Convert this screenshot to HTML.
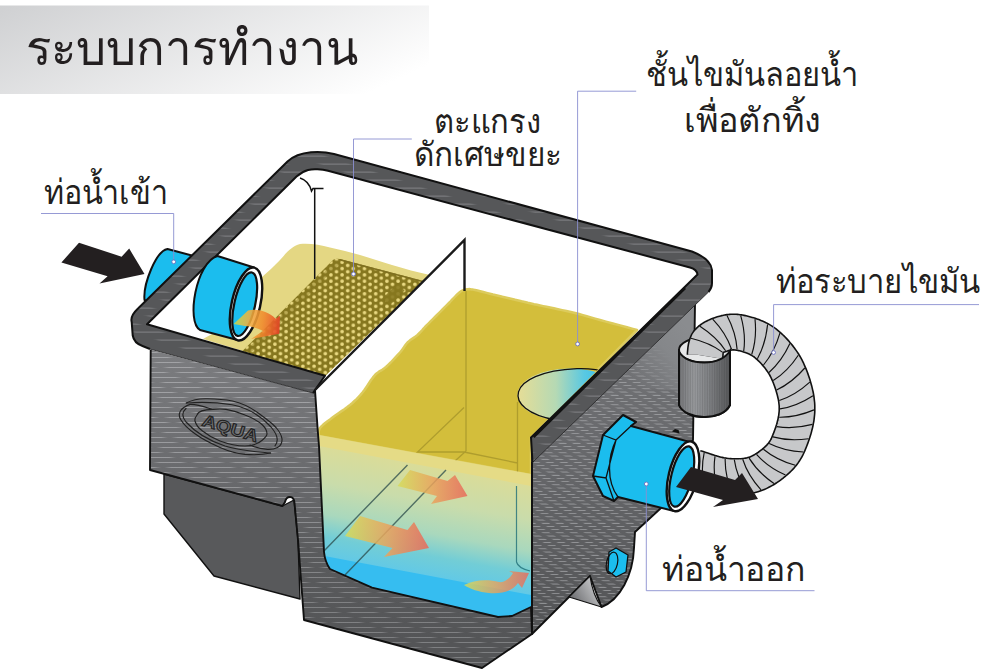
<!DOCTYPE html><html><head><meta charset="utf-8"><style>html,body{margin:0;padding:0;background:#fff}svg{display:block}</style></head><body><svg width="1000" height="669" viewBox="0 0 1000 669">
<defs>
<linearGradient id="gBan" gradientUnits="userSpaceOnUse" x1="0" y1="5.5" x2="100" y2="219"><stop offset="0" stop-color="#cfd0d2"/><stop offset="1" stop-color="#fff"/></linearGradient>
<linearGradient id="gBanR" gradientUnits="userSpaceOnUse" x1="385" y1="0" x2="430" y2="0"><stop offset="0" stop-color="#fff" stop-opacity="0"/><stop offset="1" stop-color="#fff"/></linearGradient>
<linearGradient id="gStk" x1="0" y1="0" x2="1" y2="0"><stop offset="0" stop-color="#b4b5b8" stop-opacity="0"/><stop offset=".2" stop-color="#b4b5b8" stop-opacity=".68"/><stop offset=".8" stop-color="#b4b5b8" stop-opacity=".68"/><stop offset="1" stop-color="#b4b5b8" stop-opacity="0"/></linearGradient>
<linearGradient id="gStk2" x1="0" y1="0" x2="1" y2="0"><stop offset="0" stop-color="#a9abae" stop-opacity="0"/><stop offset=".15" stop-color="#a9abae" stop-opacity=".8"/><stop offset=".85" stop-color="#a9abae" stop-opacity=".8"/><stop offset="1" stop-color="#a9abae" stop-opacity="0"/></linearGradient>
<pattern id="pStub" width="1.7" height="8" patternUnits="userSpaceOnUse"><rect width=".6" height="8" fill="#222" opacity=".22"/></pattern>
<pattern id="pWall" width="38" height="5" patternUnits="userSpaceOnUse" patternTransform="skewX(66.5)"><rect x="1" y="2" width="35" height=".9" fill="url(#gStk)"/></pattern>
<pattern id="pWall2" width="14" height="3.2" patternUnits="userSpaceOnUse" patternTransform="skewX(57)"><rect x="1" y="1.2" width="9.5" height=".9" fill="url(#gStk)"/></pattern>
<pattern id="pRim" width="64" height="8" patternUnits="userSpaceOnUse" patternTransform="skewX(72)"><rect x="4" y="3.6" width="36" height=".85" fill="url(#gStk2)"/></pattern>
<pattern id="pDots" x="353.3" y="281.2" width="11.2" height="6.3" patternUnits="userSpaceOnUse"><g fill="#e9d982"><circle cx="0" cy="0" r="1.8"/><circle cx="11.2" cy="0" r="1.8"/><circle cx="0" cy="6.3" r="1.8"/><circle cx="11.2" cy="6.3" r="1.8"/><circle cx="5.6" cy="3.15" r="1.8"/></g></pattern>
<linearGradient id="gWater" gradientUnits="userSpaceOnUse" x1="430" y1="462" x2="405" y2="600"><stop offset="0" stop-color="#dcdc96"/><stop offset=".28" stop-color="#c9dcab"/><stop offset=".5" stop-color="#a9d8bd"/><stop offset=".66" stop-color="#72cdd6"/><stop offset=".8" stop-color="#62c9e6"/><stop offset="1" stop-color="#45c1ee"/></linearGradient>
<linearGradient id="gHole" gradientUnits="userSpaceOnUse" x1="520" y1="0" x2="600" y2="0"><stop offset="0" stop-color="#e3dd98"/><stop offset=".45" stop-color="#b5d9b4"/><stop offset=".8" stop-color="#5ac9e2"/><stop offset="1" stop-color="#3ec1ea"/></linearGradient>
<linearGradient id="gStub" gradientUnits="userSpaceOnUse" x1="679" y1="0" x2="730" y2="0"><stop offset="0" stop-color="#77787b"/><stop offset=".3" stop-color="#9a9c9f"/><stop offset=".6" stop-color="#808285"/><stop offset="1" stop-color="#58595b"/></linearGradient>
<linearGradient id="gArr" x1="0" y1="0" x2="1" y2="0"><stop offset="0" stop-color="#d6dc5a"/><stop offset=".5" stop-color="#e9a35c"/><stop offset="1" stop-color="#e8685a"/></linearGradient>
<linearGradient id="gArrIn" gradientUnits="userSpaceOnUse" x1="234" y1="322" x2="281" y2="328"><stop offset="0" stop-color="#c3d84c"/><stop offset=".3" stop-color="#f0b040"/><stop offset=".6" stop-color="#f08a2c"/><stop offset="1" stop-color="#e63a26"/></linearGradient>
<linearGradient id="gSide" gradientUnits="userSpaceOnUse" x1="630" y1="380" x2="690" y2="330"><stop offset="0" stop-color="#808285" stop-opacity="0"/><stop offset=".6" stop-color="#85878a"/><stop offset="1" stop-color="#8a8c8f"/></linearGradient>
<linearGradient id="gCurve" gradientUnits="userSpaceOnUse" x1="572" y1="600" x2="598" y2="585"><stop offset="0" stop-color="#6d6e71"/><stop offset="1" stop-color="#c9cacc"/></linearGradient>
<linearGradient id="gW1" gradientUnits="userSpaceOnUse" x1="0" y1="350" x2="0" y2="640"><stop offset="0" stop-color="#7c7d80"/><stop offset=".45" stop-color="#68696c"/><stop offset=".7" stop-color="#5a5b5d"/><stop offset="1" stop-color="#545557"/></linearGradient>
<linearGradient id="gW2" gradientUnits="userSpaceOnUse" x1="0" y1="310" x2="0" y2="620"><stop offset="0" stop-color="#76777a"/><stop offset=".5" stop-color="#66676a"/><stop offset="1" stop-color="#545557"/></linearGradient>
<linearGradient id="gFade" gradientUnits="userSpaceOnUse" x1="0" y1="400" x2="0" y2="600"><stop offset="0" stop-color="#fff"/><stop offset="1" stop-color="#a8a8a8"/></linearGradient><mask id="mFade" maskUnits="userSpaceOnUse" x="0" y="0" width="1000" height="669"><rect width="1000" height="669" fill="url(#gFade)"/></mask>
<clipPath id="cOil"><path d="M319.0,436.0L319.0,435.2L318.8,434.0L318.7,432.7L318.8,431.1L319.2,429.6L320.0,428.0L321.4,426.4L323.1,424.8L325.2,423.0L327.5,421.2L330.0,419.4L332.5,417.5L335.2,415.5L338.1,413.5L341.2,411.4L344.4,409.2L347.3,407.1L350.0,405.0L352.4,403.0L354.5,401.0L356.6,399.1L358.5,397.0L360.5,394.9L362.5,392.5L364.6,389.8L366.7,386.7L368.8,383.5L370.9,380.3L373.0,377.4L375.0,375.0L376.9,373.2L378.7,371.9L380.4,370.8L382.2,369.8L384.0,368.6L386.0,367.0L388.2,364.9L390.7,362.5L393.2,359.9L395.7,357.2L398.0,354.7L400.0,352.5L401.6,350.5L402.9,348.7L404.0,347.1L405.1,345.5L406.2,344.0L407.5,342.5L409.1,341.1L410.7,339.8L412.5,338.6L414.3,337.4L415.9,336.2L417.5,335.0L418.8,333.7L420.0,332.5L421.1,331.3L422.3,330.0L423.5,328.6L425.0,327.0L426.8,325.2L428.7,323.3L430.8,321.2L432.9,319.1L435.0,317.0L437.0,315.0L438.9,313.1L440.7,311.3L442.5,309.5L444.3,307.7L446.1,305.9L448.0,304.0L450.0,302.0L452.1,299.7L454.2,297.5L456.3,295.3L458.3,293.5L460.0,292.0L461.4,291.0L462.7,290.3L463.8,289.9L464.8,289.6L465.8,289.4L467.0,289.3L468.2,289.2L469.2,289.1L470.3,289.2L471.6,289.4L473.1,289.6L475.0,290.0L477.4,290.5L480.2,291.2L483.3,292.0L486.6,292.9L489.8,293.7L493.0,294.5L496.1,295.2L499.3,296.0L502.4,296.8L505.6,297.5L508.8,298.2L512.0,299.0L515.2,299.8L518.3,300.5L521.5,301.3L524.7,302.0L527.8,302.8L531.0,303.5L534.1,304.2L537.1,304.8L540.1,305.4L543.2,306.1L546.5,306.8L550.0,307.5L553.8,308.3L557.9,309.2L562.1,310.1L566.4,311.0L570.8,312.0L575.0,313.0L579.0,314.0L582.9,315.1L586.8,316.2L590.8,317.4L595.1,318.6L600.0,320.0L605.9,321.6L612.8,323.5L620.1,325.4L627.0,327.3L632.8,328.9L637.0,330.0L531,437.5L531,475Z"/></clipPath>
<clipPath id="cMesh"><path d="M331,262Q334,257.5 340,259L423.5,281L325,376L242.5,351Z"/></clipPath>
</defs>
<rect width="1000" height="669" fill="#fff"/>
<!-- banner -->
<rect x="0" y="5.5" width="429" height="88.5" fill="url(#gBan)"/>

<!-- inlet pipe exterior part -->
<path d="M205,259L167.5,249C156,251 143,284 144.5,300L152,304Z" fill="#1bbdee" stroke="#111" stroke-width="2" stroke-linejoin="round"/>

<!-- first chamber pale oil -->
<path d="M203,339L212,334L262,277C270,270 274,266 280,260C287,252 292,246 300,244C310,243 320,245 330,247.5C340,250 350,252 360,255C371,258 381,262 392,265C405,269 417,272 430,275L325,376Z" fill="#e4d783"/>
<!-- mesh -->
<path d="M331,262Q334,257.5 340,259L423.5,281L325,376L242.5,351Z" fill="#86771f"/>
<path d="M331,262Q334,257.5 340,259L423.5,281L325,376L242.5,351Z" fill="url(#pDots)"/>
<g clip-path="url(#cMesh)"><path d="M338,262L250,350" stroke="#86771f" stroke-width="5" opacity=".45"/><path d="M401,287L386,302" stroke="#86771f" stroke-width="10" opacity=".85"/><path d="M340,259L423.5,281" stroke="#7f7020" stroke-width="3"/></g>

<!-- main oil -->
<path d="M319.0,436.0L319.0,435.2L318.8,434.0L318.7,432.7L318.8,431.1L319.2,429.6L320.0,428.0L321.4,426.4L323.1,424.8L325.2,423.0L327.5,421.2L330.0,419.4L332.5,417.5L335.2,415.5L338.1,413.5L341.2,411.4L344.4,409.2L347.3,407.1L350.0,405.0L352.4,403.0L354.5,401.0L356.6,399.1L358.5,397.0L360.5,394.9L362.5,392.5L364.6,389.8L366.7,386.7L368.8,383.5L370.9,380.3L373.0,377.4L375.0,375.0L376.9,373.2L378.7,371.9L380.4,370.8L382.2,369.8L384.0,368.6L386.0,367.0L388.2,364.9L390.7,362.5L393.2,359.9L395.7,357.2L398.0,354.7L400.0,352.5L401.6,350.5L402.9,348.7L404.0,347.1L405.1,345.5L406.2,344.0L407.5,342.5L409.1,341.1L410.7,339.8L412.5,338.6L414.3,337.4L415.9,336.2L417.5,335.0L418.8,333.7L420.0,332.5L421.1,331.3L422.3,330.0L423.5,328.6L425.0,327.0L426.8,325.2L428.7,323.3L430.8,321.2L432.9,319.1L435.0,317.0L437.0,315.0L438.9,313.1L440.7,311.3L442.5,309.5L444.3,307.7L446.1,305.9L448.0,304.0L450.0,302.0L452.1,299.7L454.2,297.5L456.3,295.3L458.3,293.5L460.0,292.0L461.4,291.0L462.7,290.3L463.8,289.9L464.8,289.6L465.8,289.4L467.0,289.3L468.2,289.2L469.2,289.1L470.3,289.2L471.6,289.4L473.1,289.6L475.0,290.0L477.4,290.5L480.2,291.2L483.3,292.0L486.6,292.9L489.8,293.7L493.0,294.5L496.1,295.2L499.3,296.0L502.4,296.8L505.6,297.5L508.8,298.2L512.0,299.0L515.2,299.8L518.3,300.5L521.5,301.3L524.7,302.0L527.8,302.8L531.0,303.5L534.1,304.2L537.1,304.8L540.1,305.4L543.2,306.1L546.5,306.8L550.0,307.5L553.8,308.3L557.9,309.2L562.1,310.1L566.4,311.0L570.8,312.0L575.0,313.0L579.0,314.0L582.9,315.1L586.8,316.2L590.8,317.4L595.1,318.6L600.0,320.0L605.9,321.6L612.8,323.5L620.1,325.4L627.0,327.3L632.8,328.9L637.0,330.0L531,437.5L531,475Z" fill="#d3be3b" stroke="#dccb5c" stroke-width="2.5" stroke-linejoin="round"/>
<g clip-path="url(#cOil)"><ellipse cx="570" cy="395" rx="52.5" ry="26.5" fill="url(#gHole)"/>
<path d="M556,420C500,410 505,372 577,368.7C590,368 600,370 610,373" fill="none" stroke="#111" stroke-width="1.3"/>
<path d="M466,291L466,451M464,407.5L417.5,452L464,452L517.5,463M466,451L455,461M517.5,402L517.5,476" fill="none" stroke="#a8982c" stroke-width="1.3" opacity=".85"/>
</g>
<!-- oil cut band -->
<path d="M319,435L531,474L531,487L319,447Z" fill="#e5db86"/>
<!-- water -->
<path d="M319,446L531,486L531,607L512,616L498,617L372,587.6L330,569Q325,562 324,552Z" fill="url(#gWater)"/>
<path d="M324.3,556L531,595L531,607L512,616L498,617L372,587.6L330,569Q325.5,563 324.3,556Z" fill="#36bdf0"/>
<path d="M407.5,465L324,551M446,470L345,575" stroke="#2a4a4a" stroke-width="1.4" opacity=".75" fill="none"/>
<path d="M516.5,486L516.5,562Q518,568 530,571" stroke="#1f6f78" stroke-width="1.2" fill="none" opacity=".8"/>
<path d="M410,470L447.5,481L455,475L467.5,496L431,504L437,496L397.5,486Z" fill="url(#gArr)" opacity=".85"/>
<path d="M360,516L407.5,530L414,522L429,548L384,557L392.5,548L345,536Z" fill="url(#gArr)" opacity=".85"/>
<path d="M464,585C474,580 487,579 499,582C505,583 510,578 513,573L509,571L529,573L522,588L518,583C512,592 500,594 489,593C479,592 470,589 464,585Z" fill="url(#gArr)" opacity=".8"/>

<!-- base -->
<path d="M164,474L164,514L214,576L300,599L298,540L294,500L282.5,506Z" fill="#58595b" stroke="#111" stroke-width="1.4" stroke-linejoin="round"/>
<!-- front wall + cut frame -->
<path d="M150.7,349.7L313,393L315,390L317.7,430L319,446L324,552Q325,562 330,569L372,587.6L498,617L512,616L531,607L532,634L482,668L304,620L298,540L294.5,503Q294,497 290,497Q286,497 285,502L282.5,506L150,470Z" fill="url(#gW1)"/><path d="M150.7,349.7L313,393L315,390L317.7,430L319,446L324,552Q325,562 330,569L372,587.6L498,617L512,616L531,607L532,634L482,668L304,620L298,540L294.5,503Q294,497 290,497Q286,497 285,502L282.5,506L150,470Z" fill="url(#pWall)" mask="url(#mFade)"/><path d="M313,393L315,390L317.7,430L319,446L324,552Q325,562 330,569L372,587.6L498,617L512,616L531,607L532,634L482,668L304,620L298,540L294.5,503Q294,497 290,497Q286,497 285,502L282.5,506L150,470L150.7,349.7" fill="none" stroke="#111" stroke-width="1.9" stroke-linejoin="round"/>
<!-- right wall -->
<path d="M532,462L695,303L693,440L661,508L635,532L634,548C633,575 620,600 601.5,607L590,576L569,597L532,634Z" fill="url(#gW2)"/><path d="M532,462L695,303L693,440L661,508L635,532L634,548C633,575 620,600 601.5,607L590,576L569,597L532,634Z" fill="url(#pWall2)"/>
<path d="M695,303L695,392L612,385Z" fill="url(#gSide)"/>
<path d="M695,303L693,440L661,508L635,532L634,548C633,575 620,600 601.5,607L590,576L569,597L532,634L532,462" fill="none" stroke="#111" stroke-width="1.9" stroke-linejoin="round"/>
<path d="M569,597L590,576C592,590 597,601 601.5,607Z" fill="url(#gCurve)" stroke="#111" stroke-width="1.2" stroke-linejoin="round"/>
<path d="M532,437L532,634" stroke="#111" stroke-width="1.5"/>

<!-- rim -->
<path d="M147,324.3L296.5,176.5C305,169 312,169 317.5,169.3C322,169.5 325,170 328,170.8L690,267.5Q697,269.5 697.5,274.5L531,437.5L532.5,462.5L708.5,292Q712,288 712,283L712,270Q711,259 692,251.5L334,154C322,151 300,150 287.5,161.5L138,308.5Q130,316 131.7,322L132.7,335.5Q134,343 142.5,346L150,349L313,393L315,390L325,375.7Z" fill="#565759"/><path d="M147,324.3L296.5,176.5C305,169 312,169 317.5,169.3C322,169.5 325,170 328,170.8L690,267.5Q697,269.5 697.5,274.5L531,437.5L532.5,462.5L708.5,292Q712,288 712,283L712,270Q711,259 692,251.5L334,154C322,151 300,150 287.5,161.5L138,308.5Q130,316 131.7,322L132.7,335.5Q134,343 142.5,346L150,349L313,393L315,390L325,375.7Z" fill="url(#pRim)"/><path d="M532.5,462.5L708.5,292M150,349L313,393" fill="none" stroke="#2b2b2d" stroke-width=".9"/><path d="M313,393L315,390L325,375.7L147,324.3L296.5,176.5C305,169 312,169 317.5,169.3C322,169.5 325,170 328,170.8L690,267.5Q697,269.5 697.5,274.5L531,437.5L532.5,462.5M708.5,292Q712,288 712,283L712,270Q711,259 692,251.5L334,154C322,151 300,150 287.5,161.5L138,308.5Q130,316 131.7,322L132.7,335.5Q134,343 142.5,346L150,349" fill="none" stroke="#111" stroke-width="2" stroke-linejoin="round"/>
<path d="M685,288L533.5,437" stroke="#111" stroke-width="2.8" fill="none"/>

<!-- baffle -->
<path d="M315,390L464.5,240L464.5,291" fill="none" stroke="#1a1a1a" stroke-width="2.4" stroke-linejoin="miter"/>
<!-- handle -->
<path d="M300,178Q309,181 311.5,191L313,188.5L323.5,188.5M314.7,188.5L314.7,279" fill="none" stroke="#111" stroke-width="1.5"/>

<!-- inner inlet pipe -->
<path d="M217.5,256L254,267.5L237.5,340L200,330C186,322 196,262 217.5,256Z" fill="#1bbdee" stroke="#111" stroke-width="2" stroke-linejoin="round"/>
<g transform="translate(246,304) rotate(12.8)"><ellipse rx="14.3" ry="37.3" fill="#fff" stroke="#111" stroke-width="2.4"/><ellipse cx="-1.2" cy=".5" rx="10.4" ry="32.5" fill="#1bbdee" stroke="#111" stroke-width="2.2"/></g>
<!-- inlet orange arrow -->
<path d="M233.7,324L248,310.5C256,308.5 268,311 275.6,318.8L280,315.8L279.3,333.7L251,339L263,331C258,328 250,326 245,326Z" fill="url(#gArrIn)" opacity=".88"/>

<!-- stub pipe back + hose -->
<path d="M679,350L679,405C685,420 722,422 730,405L730,350Z" fill="url(#gStub)" stroke="#111" stroke-width="2"/>
<ellipse cx="704.5" cy="350" rx="25.5" ry="12.5" fill="#e6e7e8" stroke="#111" stroke-width="2"/>
<path d="M705.0,356.0L705.1,355.4L705.2,354.7L705.2,353.8L705.3,352.8L705.4,351.8L705.5,350.7L705.6,349.5L705.8,348.3L706.0,347.1L706.3,346.0L706.6,344.9L707.0,343.8L707.4,342.8L708.0,342.0L708.7,341.2L709.4,340.5L710.2,339.8L711.1,339.1L712.1,338.4L713.1,337.8L714.1,337.2L715.2,336.7L716.3,336.1L717.5,335.6L718.6,335.2L719.7,334.7L720.9,334.4L722.0,334.0L723.1,333.7L724.2,333.4L725.3,333.1L726.4,332.8L727.6,332.6L728.7,332.4L729.9,332.2L731.1,332.1L732.3,332.0L733.5,332.0L734.8,332.0L736.2,332.1L737.6,332.3L739.0,332.5L740.5,332.8L742.1,333.1L743.8,333.5L745.5,334.0L747.2,334.5L749.0,335.0L750.8,335.6L752.7,336.3L754.5,337.0L756.3,337.8L758.0,338.6L759.7,339.5L761.4,340.5L763.0,341.5L764.6,342.6L766.1,343.8L767.6,345.1L769.1,346.4L770.6,347.8L772.1,349.2L773.6,350.8L775.0,352.3L776.3,353.9L777.7,355.5L779.0,357.1L780.2,358.7L781.4,360.4L782.5,362.0L783.6,363.6L784.6,365.3L785.6,367.1L786.5,368.8L787.4,370.6L788.2,372.5L789.0,374.3L789.8,376.1L790.5,378.0L791.2,379.8L791.8,381.6L792.4,383.4L793.0,385.2L793.5,387.0L794.0,388.7L794.5,390.5L794.9,392.2L795.3,393.9L795.7,395.6L796.0,397.3L796.3,399.0L796.5,400.7L796.7,402.4L796.9,404.1L797.0,405.8L797.0,407.5L797.0,409.3L797.0,411.0L796.9,412.8L796.7,414.6L796.5,416.4L796.3,418.2L795.9,420.0L795.6,421.9L795.2,423.7L794.7,425.5L794.3,427.3L793.8,429.1L793.2,430.9L792.7,432.6L792.1,434.3L791.5,436.0L790.9,437.6L790.3,439.2L789.7,440.8L789.0,442.4L788.4,444.0L787.7,445.5L787.0,447.0L786.2,448.5L785.3,450.0L784.4,451.4L783.5,452.8L782.4,454.2L781.3,455.6L780.0,457.0L778.6,458.4L777.2,459.8L775.6,461.2L774.0,462.6L772.3,464.0L770.5,465.4L768.7,466.7L766.8,468.0L764.9,469.2L762.9,470.4L760.9,471.4L759.0,472.4L757.0,473.3L755.0,474.0L753.0,474.6L751.0,475.2L748.9,475.6L746.8,476.0L744.6,476.2L742.4,476.4L740.2,476.6L738.0,476.6L735.8,476.6L733.6,476.6L731.5,476.5L729.3,476.4L727.1,476.2L725.0,476.0L722.8,475.7L720.6,475.3L718.2,474.8L715.8,474.2L713.4,473.6L711.0,472.9L708.6,472.1L706.3,471.4L704.2,470.7L702.1,470.0L700.3,469.4L698.6,468.8L697.2,468.3L696.0,468.0" fill="none" stroke="#111" stroke-width="37.2" stroke-linejoin="round"/>
<path d="M705.0,356.0L705.1,355.4L705.2,354.7L705.2,353.8L705.3,352.8L705.4,351.8L705.5,350.7L705.6,349.5L705.8,348.3L706.0,347.1L706.3,346.0L706.6,344.9L707.0,343.8L707.4,342.8L708.0,342.0L708.7,341.2L709.4,340.5L710.2,339.8L711.1,339.1L712.1,338.4L713.1,337.8L714.1,337.2L715.2,336.7L716.3,336.1L717.5,335.6L718.6,335.2L719.7,334.7L720.9,334.4L722.0,334.0L723.1,333.7L724.2,333.4L725.3,333.1L726.4,332.8L727.6,332.6L728.7,332.4L729.9,332.2L731.1,332.1L732.3,332.0L733.5,332.0L734.8,332.0L736.2,332.1L737.6,332.3L739.0,332.5L740.5,332.8L742.1,333.1L743.8,333.5L745.5,334.0L747.2,334.5L749.0,335.0L750.8,335.6L752.7,336.3L754.5,337.0L756.3,337.8L758.0,338.6L759.7,339.5L761.4,340.5L763.0,341.5L764.6,342.6L766.1,343.8L767.6,345.1L769.1,346.4L770.6,347.8L772.1,349.2L773.6,350.8L775.0,352.3L776.3,353.9L777.7,355.5L779.0,357.1L780.2,358.7L781.4,360.4L782.5,362.0L783.6,363.6L784.6,365.3L785.6,367.1L786.5,368.8L787.4,370.6L788.2,372.5L789.0,374.3L789.8,376.1L790.5,378.0L791.2,379.8L791.8,381.6L792.4,383.4L793.0,385.2L793.5,387.0L794.0,388.7L794.5,390.5L794.9,392.2L795.3,393.9L795.7,395.6L796.0,397.3L796.3,399.0L796.5,400.7L796.7,402.4L796.9,404.1L797.0,405.8L797.0,407.5L797.0,409.3L797.0,411.0L796.9,412.8L796.7,414.6L796.5,416.4L796.3,418.2L795.9,420.0L795.6,421.9L795.2,423.7L794.7,425.5L794.3,427.3L793.8,429.1L793.2,430.9L792.7,432.6L792.1,434.3L791.5,436.0L790.9,437.6L790.3,439.2L789.7,440.8L789.0,442.4L788.4,444.0L787.7,445.5L787.0,447.0L786.2,448.5L785.3,450.0L784.4,451.4L783.5,452.8L782.4,454.2L781.3,455.6L780.0,457.0L778.6,458.4L777.2,459.8L775.6,461.2L774.0,462.6L772.3,464.0L770.5,465.4L768.7,466.7L766.8,468.0L764.9,469.2L762.9,470.4L760.9,471.4L759.0,472.4L757.0,473.3L755.0,474.0L753.0,474.6L751.0,475.2L748.9,475.6L746.8,476.0L744.6,476.2L742.4,476.4L740.2,476.6L738.0,476.6L735.8,476.6L733.6,476.6L731.5,476.5L729.3,476.4L727.1,476.2L725.0,476.0L722.8,475.7L720.6,475.3L718.2,474.8L715.8,474.2L713.4,473.6L711.0,472.9L708.6,472.1L706.3,471.4L704.2,470.7L702.1,470.0L700.3,469.4L698.6,468.8L697.2,468.3L696.0,468.0" fill="none" stroke="#c7c8ca" stroke-width="34" stroke-linejoin="round"/>
<path d="M690.9,338.2Q709.8,342.7 722.4,352.1M699.9,326.3Q716.3,336.8 725.6,350.7M712.7,319.2Q726.0,333.2 731.5,349.1M727.0,315.4Q736.0,332.7 737.1,349.4M740.7,315.6Q746.1,334.4 743.7,351.2M755.0,319.1Q757.0,338.4 751.7,354.5M767.6,324.5Q765.7,344.0 757.4,358.7M779.9,333.2Q774.5,352.0 763.5,365.0M789.9,343.6Q781.8,361.3 769.0,372.5M798.3,355.2Q787.5,371.5 773.2,380.6M804.8,368.0Q792.0,382.8 776.6,390.0M809.8,382.1Q795.4,395.2 779.3,400.5M813.0,395.7Q796.7,406.3 780.0,408.9M814.0,409.9Q796.1,417.5 779.2,417.2M812.4,424.4Q793.6,429.4 776.8,426.6M808.6,438.7Q789.3,441.5 772.9,436.9M803.4,452.0Q784.2,451.1 769.2,443.5M795.3,465.3Q776.5,460.0 763.4,449.2M785.5,475.1Q767.8,467.1 756.5,454.4M774.0,483.5Q758.0,472.5 749.1,458.1M761.0,489.9Q747.9,475.5 742.7,459.3M747.2,493.0Q736.7,476.5 734.3,459.6M732.5,493.6Q724.8,475.9 725.2,458.9M717.8,492.1Q712.5,473.2 715.0,456.3M704.4,488.6Q700.5,469.4 704.2,452.7" fill="none" stroke="#111" stroke-width="1.15"/>
<path d="M679,352L679,405C685,420 722,422 730,405L730,351Q722,362.5 704,362.5Q686,362.5 679,352Z" fill="url(#gStub)"/><path d="M679,352L679,405C685,420 722,422 730,405L730,351Q722,362.5 704,362.5Q686,362.5 679,352Z" fill="url(#pStub)" stroke="#111" stroke-width="2"/>

<!-- outlet pipe -->
<path d="M623,415L636,422L631,426L690,442L674,511L618,497L614,501L603,496L593,476L603,435Z" fill="#1bbdee" stroke="#111" stroke-width="2" stroke-linejoin="round"/>
<path d="M603,435L616,440L631,426M616,440L606,478L593,476M606,478L614,501M616,440C608,456 606,481 618,497" fill="none" stroke="#111" stroke-width="1.3"/>
<path d="M672,431.5l3,-2.5l3.5,1l1,3.5z" fill="#111"/>
<g transform="translate(683,476.3) rotate(13.8)"><ellipse rx="14.3" ry="35.8" fill="#fff" stroke="#111" stroke-width="2.4"/><ellipse cx="-1.2" cy=".5" rx="10.4" ry="31" fill="#1bbdee" stroke="#111" stroke-width="2.2"/></g>
<!-- bolt -->
<path d="M609,552L616,548L628,555L626,572L616,577L608,571Z" fill="#1bbdee" stroke="#111" stroke-width="1.3" stroke-linejoin="round"/>
<ellipse cx="612" cy="563" rx="5.5" ry="11" fill="none" stroke="#111" stroke-width="1.2" transform="rotate(12 612 563)"/>

<!-- black arrows -->
<path d="M79,242.7L121.6,256.7L129.2,248.6L144.5,274L99.5,283.4L107.6,276.3L61.4,262.5Z" fill="#231f20"/>
<path d="M691,467L735,480L742,473L758,499L713,507L723,500L676,487Z" fill="#231f20"/>

<!-- logo -->
<g fill="none" stroke="#222" stroke-width="1.15" stroke-linecap="round">
<path d="M186.3,403C193,399.5 200,398.5 207.5,398.8C216,399 224,399.5 232.5,401C241,403 250,407 257.5,412.5C265,418 271,422 276,427.5C279,431 281.5,435 282,438.8C282.3,443 280.5,446 277.5,447.5C274,449.3 271,449.6 267.5,449.4C261,449 255,447.5 250,445"/>
<path d="M186.3,403C200,402 215,402 232,404.8C248,408 262,417 271,427C277,434 279,441 275,445.8"/>
<path d="M270.6,453C262,455 253,455 245,454.4C236,453.5 228,451 220,447.5C211,443.5 202,439 195,433.8C189,429.5 184,425 181,420C179.5,417.5 179,415.5 179.4,413.8C180,411 181.5,409 183.8,407.5C186,406 188,405 190,404.4C197,404 205,407 212.5,409.4"/>
<path d="M270.6,453C256,452 240,450.5 225,446C210,441 195,432 186,422C182,417 182,412 186,408.5"/>
<path d="M213,409.4C205,409.5 198,411.5 197,415C195.5,417 194.5,419 195,421C196,425 199,428.5 202.5,431C207.5,435 213.5,438.5 220,441C228,444 236.5,446 245,446C252,446 258,444 262.5,440C265.5,437.5 267,436 267,433.8C267,430.5 265,427.5 262.5,425C258,420.5 251.5,417.5 245,415C239,412.5 232.5,410.5 226,409.4C221.5,408.8 217,409 213,409.4Z"/>
<text transform="translate(230.5,428) rotate(17) scale(1.18,1)" x="0" y="6" font-family="Liberation Sans, sans-serif" font-weight="bold" font-size="16.5" text-anchor="middle" stroke-width="1.05" fill="#6f7073">AQUA</text></g>

<!-- leaders -->
<g fill="none" stroke="#8a8ed0" stroke-width=".9">
<path d="M41,213.5H173.7V261"/><path d="M411.8,139H353.5V273"/><path d="M636.2,91.2H577.6V343"/><path d="M979,304.6H773.6V352"/><path d="M646.3,484.5V590.7H814.5"/>
</g>
<g fill="#fff" stroke="#6a6fc0" stroke-width=".9"><circle cx="173.7" cy="261.8" r="1.9"/><circle cx="353.5" cy="274" r="1.9"/><circle cx="577.6" cy="344" r="1.9"/><circle cx="773.6" cy="352.5" r="1.9"/><circle cx="646.3" cy="484" r="1.9"/></g>
<g fill="#231f20" font-family="sans-serif">
<text x="26" y="64.8" font-size="49" textLength="332" lengthAdjust="spacingAndGlyphs">ระบบการทำงาน</text>
<text x="44" y="203.7" font-size="34" textLength="124" lengthAdjust="spacingAndGlyphs">ท่อน้ำเข้า</text>
<text x="434" y="133.2" font-size="33" textLength="107" lengthAdjust="spacingAndGlyphs">ตะแกรง</text>
<text x="414" y="166" font-size="33" textLength="148" lengthAdjust="spacingAndGlyphs">ดักเศษขยะ</text>
<text x="646" y="85.8" font-size="34" textLength="212" lengthAdjust="spacingAndGlyphs">ชั้นไขมันลอยน้ำ</text>
<text x="684" y="132.1" font-size="34" textLength="137" lengthAdjust="spacingAndGlyphs">เพื่อตักทิ้ง</text>
<text x="776" y="293.3" font-size="34" textLength="204" lengthAdjust="spacingAndGlyphs">ท่อระบายไขมัน</text>
<text x="662" y="580.8" font-size="34" textLength="144" lengthAdjust="spacingAndGlyphs">ท่อน้ำออก</text>
</g>
</svg></body></html>
